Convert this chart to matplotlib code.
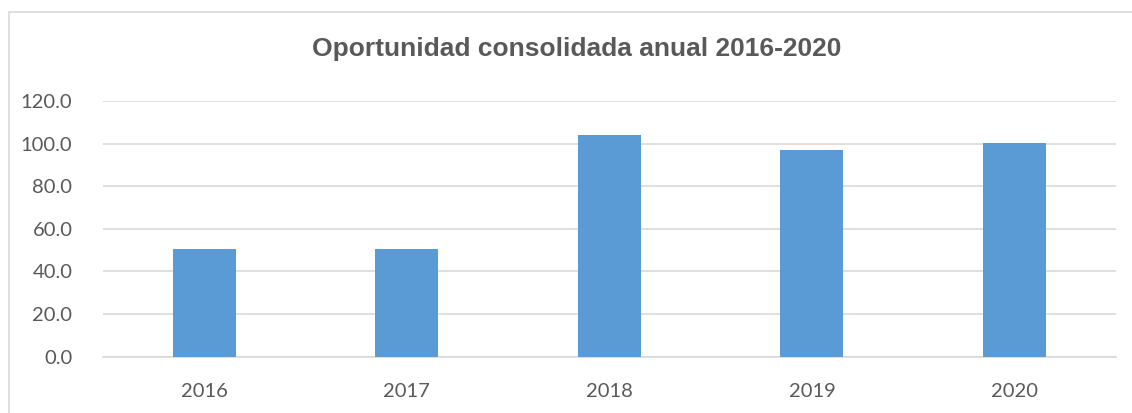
import matplotlib
matplotlib.use("Agg")
import matplotlib.pyplot as plt
from matplotlib.patches import Rectangle

years = ["2016", "2017", "2018", "2019", "2020"]
values = [50.4, 50.6, 104.2, 96.9, 100.3]
yticks = [0, 20, 40, 60, 80, 100, 120]
title = "Oportunidad consolidada anual 2016-2020"

W, H = 1132, 413
fig = plt.figure(figsize=(W / 100, H / 100), dpi=100)
fig.patch.set_facecolor("white")

# chart border
fig.patches.append(Rectangle((9 / W, -0.1), 1.2, 1 - 12 / H + 0.1, transform=fig.transFigure,
                             fill=False, edgecolor="#D9D9D9", linewidth=1.2))

ax = fig.add_axes([103 / W, 1 - 356.7 / H, (1115.7 - 103) / W, (356.7 - 101) / H])
x = range(len(years))
ax.bar(x, values, width=0.31, color="#5B9BD5", zorder=3)
ax.set_xlim(-0.5, len(years) - 0.5)
ax.set_ylim(0, 120)
ax.set_yticks(yticks)
ax.set_yticklabels([f"{v:.1f}" for v in yticks])
ax.set_xticks(list(x))
ax.set_xticklabels(years)
ax.grid(axis="y", color="#D9D9D9", linewidth=1.2, zorder=0)
for s in ["top", "right", "left"]:
    ax.spines[s].set_visible(False)
ax.spines["bottom"].set_color("#D9D9D9")
ax.spines["bottom"].set_linewidth(1.2)
ax.tick_params(axis="both", length=0, labelsize=14.5, labelcolor="#595959")
ax.tick_params(axis="y", pad=22)
ax.tick_params(axis="x", pad=19)
for lab in ax.get_xticklabels() + ax.get_yticklabels():
    lab.set_family(["Lato", "DejaVu Sans"])

fig.text(0.509, 1 - 49 / H, title, ha="center", va="center", fontsize=19, fontweight="bold",
         color="#595959", family=["Liberation Sans Narrow", "Liberation Sans", "DejaVu Sans"])

fig.savefig("out.png", dpi=100)
